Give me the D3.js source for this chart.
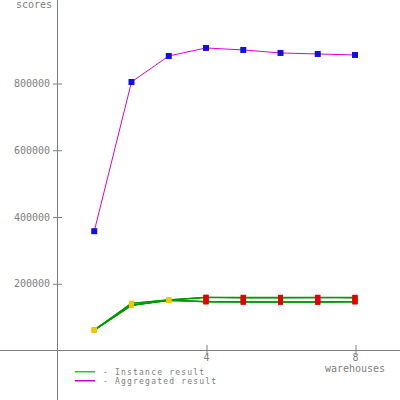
<!DOCTYPE html>
<html><head><meta charset="utf-8">
<script src="https://cdn.jsdelivr.net/npm/d3@7/dist/d3.min.js"></script>
<style>body{margin:0;background:#fff}svg{display:block}text{font-family:"DejaVu Sans Mono",monospace;font-size:10px;fill:#808080}</style>
</head><body><svg id="c" width="400" height="400"></svg>
<script>
const warehouses = [1,2,3,4,5,6,7,8];
const aggregated = [356000,803000,881000,905000,899000,890000,887000,884000];
const instances = [
  [60000,140000,150000,158000,158000,158000,158000,157000],
  [60000,140000,150000,158000,156000,157000,157000,158000],
  [59000,134000,149000,157000,157000,156000,157000,156000],
  [60000,134000,148000,145000,145000,144000,144000,145000],
  [59000,133000,149000,144000,143000,144000,143000,144000],
  [61000,135000,150000,145000,144000,143000,144000,145000]
];
const xTicks = [4,8];
const yTicks = [200000,400000,600000,800000];
const legendLabels = ["- Instance result","- Aggregated result"];

const svg = d3.select("#c");
const x = d3.scaleLinear().domain([0,8]).range([57,355]);
const y = d3.scaleLinear().domain([0,800000]).range([350,83]);

// axes
svg.append("line").attr("x1",57.5).attr("x2",57.5).attr("y1",0).attr("y2",400).style("stroke","#808080");
svg.append("line").attr("x1",0).attr("x2",400).attr("y1",350.5).attr("y2",350.5).style("stroke","#808080");

const yAxis = d3.axisLeft(y).tickValues(yTicks).tickSize(0).tickFormat(d3.format("d"));
const gy = svg.append("g").attr("transform","translate(57,0)").call(yAxis);
gy.select(".domain").remove();
gy.attr("font-family",null).attr("font-size",null);
gy.selectAll("text").attr("x",-7).attr("dy","0.35em").attr("fill",null);
gy.selectAll(".tick").append("line").attr("x1",-4).attr("x2",5).attr("transform","translate(0,0.5)").style("stroke","#808080");

const xAxis = d3.axisBottom(x).tickValues(xTicks).tickSize(0);
const gx = svg.append("g").attr("transform","translate(0,350)").call(xAxis);
gx.select(".domain").remove();
gx.attr("font-family",null).attr("font-size",null);
gx.selectAll("text").attr("y",4).attr("dy","0.71em").attr("fill",null);
gx.selectAll(".tick").append("line").attr("y1",-5).attr("y2",5).attr("transform","translate(0.5,0)").style("stroke","#808080");

svg.append("text").attr("x",52).attr("y",8).attr("text-anchor","end").text("scores");
svg.append("text").attr("x",x(8)).attr("y",372).attr("text-anchor","middle").text("warehouses");

const line = d3.line().x((d,i)=>x(warehouses[i])).y(d=>y(d));

// instance lines
instances.forEach(s=>{
  svg.append("path").attr("d",line(s)).style("fill","none").style("stroke","#009900").style("stroke-width",1.2);
});
instances.forEach(s=>{
  svg.append("g").selectAll("rect").data(s).join("rect")
    .attr("x",(d,i)=>x(warehouses[i])-2.5).attr("y",d=>y(d)-2.5).attr("width",5).attr("height",5)
    .style("fill",(d,i)=>warehouses[i]>=4?"#e80000":"#f0c800");
});

// aggregated
svg.append("path").attr("d",line(aggregated)).style("fill","none").style("stroke","#dd00dd").style("stroke-width",1);
svg.append("g").selectAll("rect").data(aggregated).join("rect")
  .attr("x",(d,i)=>x(warehouses[i])-3).attr("y",d=>y(d)-3).attr("width",6).attr("height",6)
  .style("fill","#1010e0");

// legend
const legColors = ["#22cc22","#cc00cc"];
legendLabels.forEach((t,i)=>{
  const yy = 371 + i*9;
  svg.append("rect").attr("x",75).attr("y",yy).attr("width",20).attr("height",1.5)
    .style("fill",legColors[i]);
  svg.append("text").attr("x",103).attr("y",yy+4).style("font-size","8px").style("letter-spacing","1.2px").text(t);
});
</script></body></html>
